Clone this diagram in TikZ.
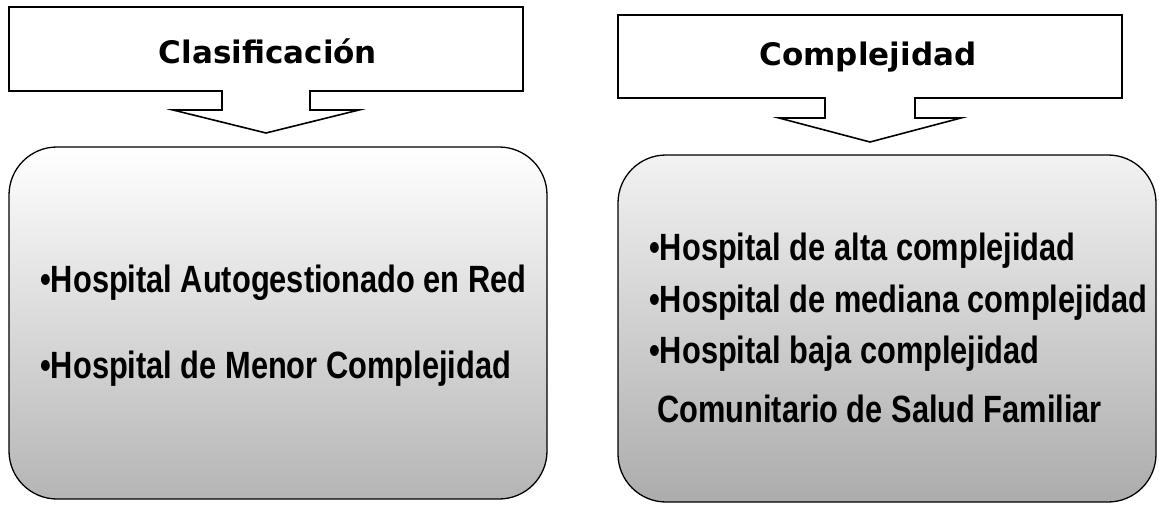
\documentclass[tikz,border=0pt]{standalone}
\usepackage{fontspec}
\setmainfont{Liberation Sans}
\newfontfamily\narrowfont[FakeStretch=0.81]{Liberation Sans}
\newfontfamily\titlefont{DejaVu Sans}
\usetikzlibrary{positioning}

\begin{document}
\begin{tikzpicture}[x=1pt,y=-1pt,line join=miter]
	\tikzset{callout/.style={draw=black,line width=1.6pt,fill=white}}
	\tikzset{bigbox/.style={draw=black,line width=1.3pt,rounded corners=48pt}}
	\tikzset{title/.style={font=\titlefont\bfseries\fontsize{31}{36}\selectfont,inner sep=0pt}}
	\tikzset{item/.style={anchor=base west,inner sep=0pt,font=\narrowfont\bfseries\fontsize{38}{44}\selectfont}}
	\useasboundingbox (0,0) rectangle (1159,505);
	% left column
	\draw[callout] (9,7) -- (523,7) -- (523,91) -- (310,91) -- (310,110) -- (359,110)
	  -- (266,133) -- (173,110) -- (222,110) -- (222,91) -- (9,91) -- cycle;
	\node[title] (clasif) at (268,51) {Clasificación};
	\shade[bigbox,top color=white,middle color=gray!12,bottom color=gray!58]
	  (9,147) rectangle (547,499);
	\node[item] (red)   at (40,292) {•Hospital Autogestionado en Red};
	\node[item] (menor) at (40,378) {•Hospital de Menor Complejidad};
	% right column
	\draw[callout] (618,15) -- (1122,15) -- (1122,98) -- (915,98) -- (915,118) -- (961,118)
	  -- (870,142) -- (779,118) -- (825,118) -- (825,98) -- (618,98) -- cycle;
	\node[title] (complej) at (868,57) {Complejidad};
	\shade[bigbox,top color=gray!10,middle color=gray!38,bottom color=gray!65]
	  (618,155) rectangle (1156,502);
	\node[item] (alta)    at (649,260) {•Hospital de alta complejidad};
	\node[item] (mediana) at (649,312) {•Hospital de mediana complejidad};
	\node[item] (baja)    at (649,363) {•Hospital baja complejidad};
	\node[item] (comun)   at (657,422) {Comunitario de Salud Familiar};
\end{tikzpicture}
\end{document}
